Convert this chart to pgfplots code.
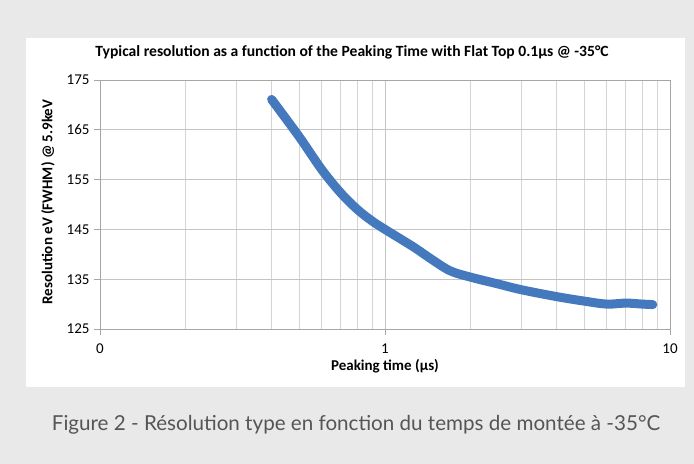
\documentclass[border=0pt]{standalone}
\usepackage{pgfplots}
\pgfplotsset{compat=1.18}
\usepackage{fontspec}
\setmainfont{Carlito}
\newfontfamily\capfont{Lato}
\definecolor{bgray}{HTML}{E9E9E9}
\definecolor{lineblue}{HTML}{4479BE}
\definecolor{gridc}{HTML}{C4C4C4}
\definecolor{gridm}{HTML}{D4D4D4}
\definecolor{axc}{HTML}{A6A6A6}
\definecolor{capc}{HTML}{555555}
\begin{document}
\begin{tikzpicture}[x=1bp,y=1bp]
\fill[bgray] (0,0) rectangle (694,464);
\fill[white] (26,77) rectangle (685,426);
\node[font=\bfseries\fontsize{15.6bp}{17bp}\selectfont] at (352,412) {Typical resolution as a function of the Peaking Time with Flat Top 0.1µs @ -35°C};
\node[font=\capfont\fontsize{20.6bp}{23bp}\selectfont, text=capc] at (356,39) {Figure 2 - Résolution type en fonction du temps de montée à -35°C};
\begin{axis}[
  at={(100bp,135bp)}, anchor=south west,
  scale only axis, width=570bp, height=249bp,
  xmode=log, xmin=0.1, xmax=10,
  ymin=125, ymax=175,
  xtick={0.1,1,10}, xticklabels={0,1,10},
  minor xtick={0.2,0.3,0.4,0.5,0.6,0.7,0.8,0.9,2,3,4,5,6,7,8,9},
  ytick={125,135,145,155,165,175},
  grid=both,
  major grid style={gridc, line width=0.8pt},
  minor grid style={gridm, line width=0.8pt},
  axis line style={axc, line width=0.8pt},
  tick style={axc, line width=0.8pt},
  tick align=outside, major tick length=6bp, minor tick length=0pt,
  xtick pos=bottom, ytick pos=left,
  ticklabel style={font=\fontsize{15bp}{17bp}\selectfont, text=black},
  /pgf/number format/assume math mode=true,
  xticklabel style={yshift=-5bp},
  yticklabel style={xshift=-1bp},
  xlabel={Peaking time (µs)},
  ylabel={Resolution eV (FWHM) @ 5.9keV},
  every axis x label/.style={at={(axis description cs:0.5,-0.15)}, anchor=center, font=\bfseries\fontsize{15bp}{17bp}\selectfont},
  every axis y label/.style={at={(axis description cs:-0.0912,0.51)}, rotate=90, anchor=center, font=\bfseries\fontsize{15bp}{17bp}\selectfont},
]
\addplot[lineblue, line width=9bp, line cap=round, line join=round, smooth, tension=0.55] coordinates {
(0.4,171.1) (0.5,163.6) (0.6,157.0) (0.7,152.3) (0.8,149.0) (0.9,146.7) (1.0,145.0)
(1.257,141.5) (1.44,139.2) (1.69,136.7) (2.0,135.4) (2.47,134.1) (3.0,132.9)
(4.0,131.5) (5.0,130.6) (6.0,130.0) (7.0,130.2) (8.0,130.0) (8.7,129.9)
};
\end{axis}
\end{tikzpicture}
\end{document}
